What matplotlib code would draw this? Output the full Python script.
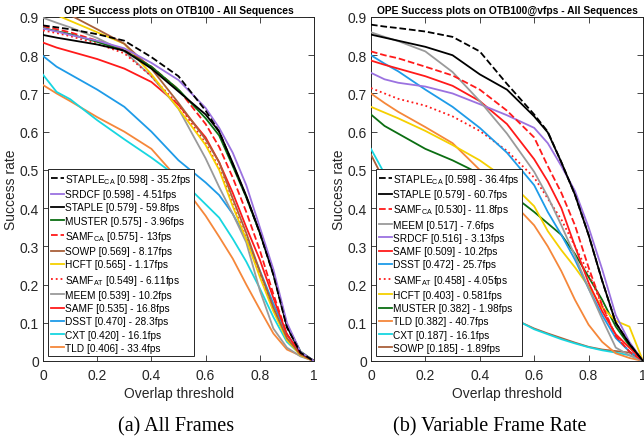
import numpy as np
import matplotlib
matplotlib.use("Agg")
import matplotlib.pyplot as plt

plt.rcParams['font.family'] = ['Liberation Sans', 'DejaVu Sans']
plt.rcParams['mathtext.fontset'] = 'custom'
plt.rcParams['mathtext.rm'] = 'Liberation Sans'
plt.rcParams['mathtext.it'] = 'Liberation Sans'

# overlap thresholds
thr = [0, .05, .1, .2, .3, .4, .5, .6, .65, .7, .75, .8, .85, .9, .95, 1]

# ---- (a) all frames ----
names_a = ['STAPLE$_{\\rm CA}$ [0.598] - 35.2fps', 'SRDCF [0.598] - 4.51fps',
           'STAPLE [0.579] - 59.8fps', 'MUSTER [0.575] - 3.96fps',
           'SAMF$_{\\rm CA}$ [0.575] - 13fps', 'SOWP [0.569] - 8.17fps',
           'HCFT [0.565] - 1.17fps', 'SAMF$_{\\rm AT}$ [0.549] - 6.11fps',
           'MEEM [0.539] - 10.2fps', 'SAMF [0.535] - 16.8fps',
           'DSST [0.470] - 28.3fps', 'CXT [0.420] - 16.1fps',
           'TLD [0.406] - 33.4fps']
staple_ca_a = [0.878, 0.873, 0.868, 0.855, 0.838, 0.795, 0.745, 0.655, 0.60, 0.515, 0.43, 0.335, 0.225, 0.088, 0.022, 0]
srdcf_a = [0.87, 0.862, 0.853, 0.838, 0.818, 0.78, 0.735, 0.662, 0.61, 0.545, 0.46, 0.35, 0.24, 0.1, 0.024, 0]
staple_a = [0.853, 0.846, 0.84, 0.828, 0.812, 0.765, 0.705, 0.645, 0.60, 0.518, 0.432, 0.337, 0.228, 0.09, 0.022, 0]
muster_a = [0.871, 0.863, 0.855, 0.835, 0.812, 0.77, 0.71, 0.635, 0.59, 0.51, 0.428, 0.335, 0.23, 0.095, 0.025, 0]
samf_ca_a = [0.876, 0.868, 0.86, 0.838, 0.815, 0.77, 0.71, 0.62, 0.56, 0.48, 0.39, 0.29, 0.175, 0.07, 0.02, 0]
sowp_a = [0.935, 0.92, 0.905, 0.868, 0.83, 0.765, 0.675, 0.58, 0.52, 0.425, 0.335, 0.235, 0.14, 0.06, 0.017, 0]
hcft_a = [0.925, 0.905, 0.89, 0.86, 0.83, 0.75, 0.66, 0.565, 0.50, 0.405, 0.318, 0.22, 0.13, 0.055, 0.015, 0]
samf_at_a = [0.865, 0.858, 0.85, 0.83, 0.805, 0.745, 0.67, 0.57, 0.505, 0.41, 0.322, 0.225, 0.135, 0.058, 0.016, 0]
meem_a = [0.898, 0.885, 0.873, 0.845, 0.81, 0.745, 0.66, 0.53, 0.455, 0.385, 0.31, 0.185, 0.085, 0.035, 0.012, 0]
samf_a = [0.833, 0.82, 0.81, 0.79, 0.765, 0.73, 0.67, 0.585, 0.52, 0.44, 0.35, 0.265, 0.165, 0.07, 0.02, 0]
dsst_a = [0.798, 0.77, 0.75, 0.71, 0.665, 0.60, 0.525, 0.467, 0.434, 0.385, 0.32, 0.237, 0.15, 0.07, 0.02, 0]
cxt_a = [0.749, 0.704, 0.685, 0.63, 0.58, 0.532, 0.48, 0.41, 0.375, 0.32, 0.26, 0.19, 0.115, 0.05, 0.017, 0]
tld_a = [0.722, 0.70, 0.68, 0.638, 0.60, 0.555, 0.475, 0.38, 0.325, 0.268, 0.20, 0.135, 0.072, 0.03, 0.014, 0]

# ---- (b) variable frame rate ----
names_b = ['STAPLE$_{\\rm CA}$ [0.598] - 36.4fps', 'STAPLE [0.579] - 60.7fps',
           'SAMF$_{\\rm CA}$ [0.530] - 11.8fps', 'MEEM [0.517] - 7.6fps',
           'SRDCF [0.516] - 3.13fps', 'SAMF [0.509] - 10.2fps',
           'DSST [0.472] - 25.7fps', 'SAMF$_{\\rm AT}$ [0.458] - 4.05fps',
           'HCFT [0.403] - 0.581fps', 'MUSTER [0.382] - 1.98fps',
           'TLD [0.382] - 40.7fps', 'CXT [0.187] - 16.1fps',
           'SOWP [0.185] - 1.89fps']
staple_ca_b = [0.88, 0.875, 0.871, 0.862, 0.848, 0.81, 0.725, 0.645, 0.60, 0.52, 0.435, 0.33, 0.21, 0.10, 0.045, 0]
staple_b = [0.854, 0.846, 0.838, 0.822, 0.80, 0.75, 0.71, 0.64, 0.598, 0.52, 0.435, 0.33, 0.21, 0.10, 0.045, 0]
samf_ca_b = [0.81, 0.80, 0.792, 0.77, 0.747, 0.71, 0.655, 0.585, 0.51, 0.44, 0.355, 0.245, 0.145, 0.065, 0.025, 0]
meem_b = [0.86, 0.848, 0.837, 0.81, 0.756, 0.68, 0.595, 0.495, 0.43, 0.355, 0.275, 0.19, 0.11, 0.035, 0.015, 0]
srdcf_b = [0.754, 0.737, 0.728, 0.718, 0.70, 0.672, 0.643, 0.61, 0.57, 0.51, 0.445, 0.35, 0.24, 0.12, 0.05, 0]
samf_b = [0.786, 0.775, 0.765, 0.745, 0.72, 0.68, 0.62, 0.528, 0.47, 0.40, 0.30, 0.205, 0.13, 0.07, 0.035, 0]
dsst_b = [0.80, 0.778, 0.758, 0.71, 0.665, 0.61, 0.545, 0.46, 0.39, 0.33, 0.265, 0.19, 0.12, 0.06, 0.025, 0]
samf_at_b = [0.714, 0.70, 0.686, 0.668, 0.64, 0.602, 0.55, 0.48, 0.425, 0.37, 0.30, 0.23, 0.145, 0.065, 0.025, 0]
hcft_b = [0.665, 0.65, 0.635, 0.602, 0.565, 0.525, 0.475, 0.405, 0.34, 0.29, 0.245, 0.195, 0.14, 0.105, 0.09, 0]
muster_b = [0.645, 0.615, 0.595, 0.555, 0.525, 0.49, 0.445, 0.39, 0.36, 0.33, 0.28, 0.22, 0.16, 0.09, 0.04, 0]
tld_b = [0.70, 0.675, 0.652, 0.612, 0.57, 0.50, 0.43, 0.355, 0.30, 0.235, 0.16, 0.095, 0.05, 0.02, 0.008, 0]
cxt_b = [0.555, 0.49, 0.42, 0.33, 0.25, 0.18, 0.12, 0.083, 0.07, 0.057, 0.046, 0.036, 0.028, 0.022, 0.015, 0]
sowp_b = [0.54, 0.47, 0.40, 0.32, 0.24, 0.175, 0.118, 0.085, 0.072, 0.06, 0.048, 0.037, 0.03, 0.026, 0.022, 0]

# styles per tracker
sty = {
    'STAPLE_CA': ('black', '--'), 'STAPLE': ('black', '-'),
    'SAMF_CA': ('#ff1a1a', '--'), 'SAMF': ('#ff1a1a', '-'), 'SAMF_AT': ('#ff1a1a', ':'),
    'SRDCF': ('#9b72e0', '-'), 'MUSTER': ('#0b6e12', '-'), 'SOWP': ('#a9603a', '-'),
    'HCFT': ('#f5d000', '-'), 'MEEM': ('#9a9a9a', '-'), 'DSST': ('#1e9be8', '-'),
    'CXT': ('#17d6e0', '-'), 'TLD': ('#f5873a', '-'),
}

series_a = [('STAPLE_CA', staple_ca_a), ('SRDCF', srdcf_a), ('STAPLE', staple_a),
            ('MUSTER', muster_a), ('SAMF_CA', samf_ca_a), ('SOWP', sowp_a),
            ('HCFT', hcft_a), ('SAMF_AT', samf_at_a), ('MEEM', meem_a),
            ('SAMF', samf_a), ('DSST', dsst_a), ('CXT', cxt_a), ('TLD', tld_a)]
series_b = [('STAPLE_CA', staple_ca_b), ('STAPLE', staple_b), ('SAMF_CA', samf_ca_b),
            ('MEEM', meem_b), ('SRDCF', srdcf_b), ('SAMF', samf_b), ('DSST', dsst_b),
            ('SAMF_AT', samf_at_b), ('HCFT', hcft_b), ('MUSTER', muster_b),
            ('TLD', tld_b), ('CXT', cxt_b), ('SOWP', sowp_b)]

fig = plt.figure(figsize=(6.44, 4.39), dpi=100)
ax_a = fig.add_axes([0.0668, 0.1754, 0.4208, 0.7836])
ax_b = fig.add_axes([0.576, 0.1754, 0.4224, 0.7836])


def draw(ax, series, names, title):
    n = len(series)
    for i, (key, vals) in enumerate(series):
        c, ls = sty[key]
        ax.plot(thr, vals, color=c, ls=ls, lw=1.3, label=names[i], zorder=3 + n - i)
    ax.set_xlim(0, 1)
    ax.set_ylim(0, 0.9)
    ax.set_xticks([0, 0.2, 0.4, 0.6, 0.8, 1])
    ax.set_xticklabels(['0', '0.2', '0.4', '0.6', '0.8', '1'])
    ax.set_yticks(np.arange(0, 0.91, 0.1))
    ax.set_yticklabels(['0', '0.1', '0.2', '0.3', '0.4', '0.5', '0.6', '0.7', '0.8', '0.9'])
    ax.tick_params(axis='both', direction='in', top=True, right=True, length=4, width=0.6,
                   labelsize=10, colors='#262626')
    ax.tick_params(axis='x', pad=5)
    ax.tick_params(axis='y', pad=3)
    for sp in ax.spines.values():
        sp.set_linewidth(0.7)
        sp.set_color('#262626')
    ax.set_xlabel('Overlap threshold', fontsize=10, color='#262626', labelpad=3)
    ax.set_ylabel('Success rate', fontsize=10, color='#262626', labelpad=1)
    ax.set_title(title, fontsize=7.4, fontweight='bold', pad=3)
    leg = ax.legend(loc='lower left', bbox_to_anchor=(0.018, 0.015), borderaxespad=0,
                    fontsize=7.3, handlelength=1.3, handletextpad=0.05,
                    labelspacing=0.32, borderpad=0.3, fancybox=False,
                    edgecolor='#262626', framealpha=1)
    leg.get_frame().set_linewidth(0.7)
    leg.set_zorder(50)


draw(ax_a, series_a, names_a, 'OPE Success plots on OTB100 - All Sequences')
draw(ax_b, series_b, names_b, 'OPE Success plots on OTB100@vfps - All Sequences')

fig.text(0.273, 0.027, '(a) All Frames', family='Liberation Serif', fontsize=14.5,
         ha='center', va='center')
fig.text(0.76, 0.027, '(b) Variable Frame Rate', family='Liberation Serif', fontsize=14.5,
         ha='center', va='center')

fig.savefig('out.png', dpi=100)
